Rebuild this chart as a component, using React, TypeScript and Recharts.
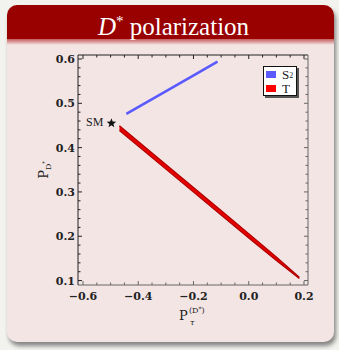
import React from 'react';
import { ComposedChart, XAxis, YAxis, Line, Area, Scatter, Legend } from 'recharts';

// axis ticks (major + minor, Mathematica-style frame)
const xTicks = [-0.6, -0.55, -0.5, -0.45, -0.4, -0.35, -0.3, -0.25, -0.2, -0.15, -0.1, -0.05, 0, 0.05, 0.1, 0.15, 0.2];
const xMajor = [-0.6, -0.4, -0.2, 0, 0.2];
const yTicks = [
  0.1, 0.12, 0.14, 0.16, 0.18, 0.2, 0.22, 0.24, 0.26, 0.28, 0.3, 0.32, 0.34, 0.36, 0.38,
  0.4, 0.42, 0.44, 0.46, 0.48, 0.5, 0.52, 0.54, 0.56, 0.58, 0.6,
];
const yMajor = [0.1, 0.2, 0.3, 0.4, 0.5, 0.6];

// S2 line
const s2X = [-0.443, -0.212, -0.113];
const s2Y = [0.476, 0.5585, 0.594];

// T band (lower / upper edge)
const tX = [-0.468, -0.3, -0.2, -0.1, 0.0, 0.1, 0.183];
const tLow = [0.4385, 0.3515, 0.2996, 0.248, 0.1962, 0.1452, 0.1048];
const tHigh = [0.4495, 0.3621, 0.3102, 0.258, 0.206, 0.1530, 0.1074];

// Standard Model point
const smX = [-0.497];
const smY = [0.455];

const legendItems = [
  { name: 'S', sub: '2', color: '#5a5aff' },
  { name: 'T', sub: '', color: '#ff0000' },
];

const s2Data = s2X.map((x, i) => ({ x, y: s2Y[i] }));
const tData = tX.map((x, i) => ({ x, range: [tLow[i], tHigh[i]] }));
const smData = smX.map((x, i) => ({ x, y: smY[i] }));

const isMajor = (v: number, list: number[]) => list.some(m => Math.abs(m - v) < 1e-6);
const fmt = (v: number) => {
  const s = Math.abs(v).toFixed(1);
  return v < -1e-9 ? '\u2212' + s : s;
};

const tickFont = { fontFamily: '"DejaVu Serif", serif', fontSize: 11, fontWeight: 700, fill: '#222' };

const LeftTick = ({ x, y, payload }: any) => {
  const major = isMajor(payload.value, yMajor);
  return (
    <g>
      <line x1={x} x2={x + (major ? 4 : 2.5)} y1={y} y2={y} stroke="#222" />
      {major && (
        <text x={x - 3} y={y + 4} textAnchor="end" {...tickFont}>
          {fmt(payload.value)}
        </text>
      )}
    </g>
  );
};

const RightTick = ({ x, y, payload }: any) => {
  const major = isMajor(payload.value, yMajor);
  return <line x1={x} x2={x - (major ? 4 : 2.5)} y1={y} y2={y} stroke="#666" />;
};

const BottomTick = ({ x, y, payload }: any) => {
  const major = isMajor(payload.value, xMajor);
  return (
    <g>
      <line x1={x} x2={x} y1={y} y2={y - (major ? 4 : 2.5)} stroke="#666" />
      {major && (
        <text x={x} y={y + 15} textAnchor="middle" {...tickFont}>
          {fmt(payload.value)}
        </text>
      )}
    </g>
  );
};

const TopTick = ({ x, y, payload }: any) => {
  const major = isMajor(payload.value, xMajor);
  return <line x1={x} x2={x} y1={y} y2={y + (major ? 4 : 2.5)} stroke="#222" />;
};

const XTitle = ({ viewBox }: any) => {
  const cx = viewBox.x + viewBox.width / 2;
  const base = viewBox.y + 35;
  return (
    <g fontFamily='"DejaVu Serif", serif' fill="#222">
      <text x={cx - 14} y={base} fontSize={13}>P</text>
      <text x={cx - 4} y={base - 7} fontSize={8}>
        (D<tspan fontSize={6} dy={-2}>*</tspan><tspan dy={2}>)</tspan>
      </text>
      <text x={cx - 3} y={base + 5} fontSize={8} fontStyle="italic">τ</text>
    </g>
  );
};

const YTitle = ({ viewBox }: any) => {
  const cx = 47.5;
  const cy = viewBox.y + viewBox.height / 2;
  return (
    <text
      x={cx}
      y={cy}
      transform={`rotate(-90, ${cx}, ${cy})`}
      textAnchor="middle"
      fontFamily='"DejaVu Serif", serif'
      fill="#222"
    >
      <tspan fontSize={13}>P</tspan>
      <tspan fontSize={8} dy={3}>D</tspan>
      <tspan fontSize={5} dy={-5}>*</tspan>
    </text>
  );
};

const StarShape = ({ cx, cy }: any) => {
  const pts: string[] = [];
  for (let i = 0; i < 10; i++) {
    const r = i % 2 === 0 ? 5 : 2.1;
    const a = -Math.PI / 2 + (i * Math.PI) / 5;
    pts.push(`${cx + r * Math.cos(a)},${cy + r * Math.sin(a)}`);
  }
  return (
    <g>
      <polygon points={pts.join(' ')} fill="#111" />
      <text x={cx - 8} y={cy + 3} textAnchor="end" fontFamily='"Liberation Serif", serif' fontSize={12} fill="#222">
        SM
      </text>
    </g>
  );
};

const renderLegend = () => (
  <div
    style={{
      background: '#fff',
      border: '1px solid #111',
      boxShadow: '2px 2px 0 #555',
      padding: '0 3px 0 2px',
      fontFamily: '"Liberation Serif", serif',
      fontSize: 13,
      lineHeight: '13px',
      color: '#222',
    }}
  >
    {legendItems.map(item => (
      <div key={item.name} style={{ display: 'flex', alignItems: 'center', height: 14 }}>
        <span style={{ width: 10, height: 7, background: item.color, display: 'inline-block', marginRight: 6 }} />
        <span>{item.name}</span>
        {item.sub && (
          <span style={{ fontSize: 8, lineHeight: '8px', marginTop: 4 }}>{item.sub}</span>
        )}
      </div>
    ))}
  </div>
);

const App = () => {
  return (
    <div style={{ position: 'absolute', left: 0, top: 0, width: 339, height: 350, background: '#f2f2ef', overflow: 'hidden' }}>
      <div
        style={{
          position: 'absolute',
          left: 7,
          top: 5,
          width: 327,
          height: 337,
          borderRadius: 10,
          background: '#f4e5e5',
          boxShadow: '2px 4px 4px rgba(0,0,0,0.45)',
          overflow: 'hidden',
        }}
      >
        <div
          style={{
            height: 34,
            background: '#990000',
            color: '#fff',
            textAlign: 'center',
            fontFamily: '"Liberation Serif", serif',
            fontSize: 25,
            lineHeight: '33px',
            paddingLeft: 6,
          }}
        >
          <i>D</i>
          <sup style={{ fontSize: 15, verticalAlign: 9 }}>*</sup> polarization
        </div>
        <div style={{ height: 6, background: 'linear-gradient(#c65c5c, #f4e5e5)' }} />
      </div>
      <ComposedChart
        width={339}
        height={350}
        margin={{ top: 0, right: 0, bottom: 0, left: 0 }}
        style={{ position: 'absolute', left: 0, top: 0 }}
      >
        <XAxis
          xAxisId="bottom"
          dataKey="x"
          type="number"
          domain={[-0.618, 0.2145]}
          allowDataOverflow
          ticks={xTicks}
          interval={0}
          height={65}
          tickSize={0}
          tickMargin={0}
          tickLine={false}
          axisLine={{ stroke: '#666' }}
          tick={<BottomTick />}
          label={<XTitle />}
        />
        <XAxis
          xAxisId="top"
          orientation="top"
          dataKey="x"
          type="number"
          domain={[-0.618, 0.2145]}
          allowDataOverflow
          ticks={xTicks}
          interval={0}
          height={55}
          tickSize={0}
          tickMargin={0}
          tickLine={false}
          axisLine={{ stroke: '#222' }}
          tick={<TopTick />}
        />
        <YAxis
          yAxisId="left"
          type="number"
          domain={[0.09, 0.609]}
          allowDataOverflow
          ticks={yTicks}
          interval={0}
          width={78}
          tickSize={0}
          tickMargin={0}
          tickLine={false}
          axisLine={{ stroke: '#222' }}
          tick={<LeftTick />}
          label={<YTitle />}
        />
        <YAxis
          yAxisId="right"
          orientation="right"
          type="number"
          domain={[0.09, 0.609]}
          allowDataOverflow
          ticks={yTicks}
          interval={0}
          width={31}
          tickSize={0}
          tickMargin={0}
          tickLine={false}
          axisLine={{ stroke: '#666' }}
          tick={<RightTick />}
        />
        <Legend
          layout="vertical"
          align="center"
          verticalAlign="middle"
          content={renderLegend}
          wrapperStyle={{ left: 263, top: 66, width: 'auto', height: 'auto' }}
        />
        <Area
          xAxisId="bottom"
          yAxisId="left"
          data={tData}
          dataKey="range"
          type="linear"
          fill="#e80000"
          fillOpacity={1}
          stroke="#b00000"
          strokeWidth={1.2}
          isAnimationActive={false}
        />
        <Line
          xAxisId="bottom"
          yAxisId="left"
          data={s2Data}
          dataKey="y"
          type="linear"
          stroke="#5a5aff"
          strokeWidth={2.6}
          dot={false}
          isAnimationActive={false}
        />
        <Scatter
          xAxisId="bottom"
          yAxisId="left"
          data={smData}
          dataKey="y"
          shape={<StarShape />}
          isAnimationActive={false}
        />
      </ComposedChart>
    </div>
  );
};

export default App;
